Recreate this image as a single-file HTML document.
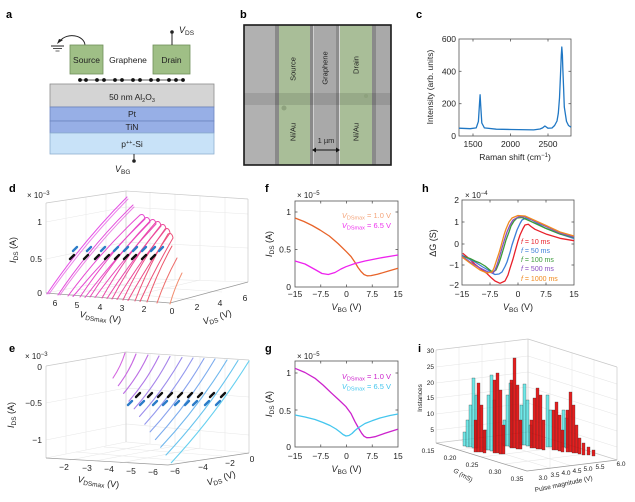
<!DOCTYPE html>
<html><head><meta charset="utf-8">
<style>
html,body{margin:0;padding:0;background:#fff;}
svg{display:block;font-family:"Liberation Sans",Arial,sans-serif;}
.lb{font-weight:bold;font-size:11px;}
.t{font-size:8.5px;fill:#222;}
.s{font-size:6.5px;fill:#222;}
</style></head>
<body>
<svg width="635" height="502" viewBox="0 0 635 502" xmlns="http://www.w3.org/2000/svg">
<rect width="635" height="502" fill="#fff"/>

<!-- ===== Panel a ===== -->
<text class="lb" x="6" y="18">a</text>
<path d="M85,45 C84,35 67,32 60,41" fill="none" stroke="#222" stroke-width="1"/>
<path d="M57,44 L63,40 L59,39 Z" fill="#222"/>
<line x1="51" y1="46" x2="64" y2="46" stroke="#222" stroke-width="1"/>
<line x1="53" y1="48.5" x2="62" y2="48.5" stroke="#222" stroke-width="0.8"/>
<line x1="55.5" y1="51" x2="59.5" y2="51" stroke="#222" stroke-width="0.7"/>
<rect x="70" y="45" width="33" height="29" fill="#9fbf86" stroke="#6f8f5a" stroke-width="0.8"/>
<rect x="153" y="45" width="37" height="29" fill="#9fbf86" stroke="#6f8f5a" stroke-width="0.8"/>
<text class="t" x="86.5" y="63" text-anchor="middle" font-size="8">Source</text>
<text class="t" x="128" y="63" text-anchor="middle" font-size="8">Graphene</text>
<text class="t" x="171.5" y="63" text-anchor="middle" font-size="8">Drain</text>
<line x1="172" y1="45" x2="172" y2="33" stroke="#222" stroke-width="1"/>
<circle cx="172" cy="32" r="1.8" fill="#222"/>
<text x="179" y="33" font-size="9" fill="#222"><tspan font-style="italic">V</tspan><tspan font-size="6.5" dy="2">DS</tspan></text>
<line x1="79" y1="80" x2="184" y2="80" stroke="#222" stroke-width="0.8"/>
<g fill="#111">
<circle cx="80" cy="80" r="1.9"/><circle cx="86" cy="80" r="1.9"/>
<circle cx="97" cy="80" r="1.9"/><circle cx="104" cy="80" r="1.9"/>
<circle cx="115" cy="80" r="1.9"/><circle cx="122" cy="80" r="1.9"/>
<circle cx="133" cy="80" r="1.9"/><circle cx="140" cy="80" r="1.9"/>
<circle cx="151" cy="80" r="1.9"/><circle cx="158" cy="80" r="1.9"/>
<circle cx="169" cy="80" r="1.9"/><circle cx="176" cy="80" r="1.9"/>
<circle cx="183" cy="80" r="1.9"/>
</g>
<rect x="50" y="84" width="164" height="23" fill="#d4d4d4" stroke="#8c8c8c" stroke-width="0.8"/>
<rect x="50" y="107" width="164" height="14" fill="#97afe6" stroke="#6c85c0" stroke-width="0.8"/>
<rect x="50" y="121" width="164" height="12" fill="#97afe6" stroke="#6c85c0" stroke-width="0.8"/>
<rect x="50" y="133" width="164" height="21" fill="#c8e2f8" stroke="#8fb0d0" stroke-width="0.8"/>
<text class="t" x="132" y="100" text-anchor="middle" font-size="8">50 nm Al<tspan font-size="5.5" dy="2">2</tspan><tspan dy="-2">O</tspan><tspan font-size="5.5" dy="2">3</tspan></text>
<text class="t" x="132" y="117" text-anchor="middle" font-size="8">Pt</text>
<text class="t" x="132" y="130" text-anchor="middle" font-size="8">TiN</text>
<text class="t" x="132" y="147" text-anchor="middle" font-size="8">p<tspan font-size="5.5" dy="-3">++</tspan><tspan dy="3">-Si</tspan></text>
<line x1="134" y1="154" x2="134" y2="161" stroke="#222" stroke-width="1"/>
<circle cx="134" cy="161" r="1.8" fill="#222"/>
<text x="115" y="172" font-size="9" fill="#222"><tspan font-style="italic">V</tspan><tspan font-size="6.5" dy="2">BG</tspan></text>

<!-- ===== Panel b ===== -->
<text class="lb" x="240" y="18">b</text>
<rect x="244" y="25" width="147" height="140" fill="#a9a9a9"/>
<rect x="245" y="25" width="30" height="140" fill="#b1b1b1"/>
<rect x="275" y="25" width="4" height="140" fill="#8a8a8a"/>
<rect x="279" y="25" width="31" height="140" fill="#a9be98"/>
<rect x="310" y="25" width="3" height="140" fill="#8a8a8a"/>
<rect x="313" y="25" width="1" height="140" fill="#d0d0d0"/>
<rect x="336" y="25" width="4" height="140" fill="#8d8d8d"/>
<rect x="339" y="25" width="1" height="140" fill="#d8d8d8"/>
<rect x="340" y="25" width="32" height="140" fill="#a9be98"/>
<rect x="372" y="25" width="4" height="140" fill="#8a8a8a"/>
<rect x="244" y="93" width="147" height="12" fill="#000" fill-opacity="0.1"/>
<circle cx="284" cy="108" r="2.5" fill="#8ea27e"/>
<circle cx="366" cy="96" r="2" fill="#8ea27e"/>
<rect x="244" y="25" width="147" height="140" fill="none" stroke="#1a1a1a" stroke-width="1.6"/>
<g font-size="7.5" fill="#222" text-anchor="middle" dominant-baseline="central">
<text transform="translate(293,69) rotate(-90)">Source</text>
<text transform="translate(325,68) rotate(-90)">Graphene</text>
<text transform="translate(356,65) rotate(-90)">Drain</text>
<text transform="translate(293,132) rotate(-90)">Ni/Au</text>
<text transform="translate(356,132) rotate(-90)">Ni/Au</text>
</g>
<text x="326" y="143" font-size="7.5" fill="#222" text-anchor="middle">1 µm</text>
<line x1="314" y1="150" x2="338" y2="150" stroke="#111" stroke-width="1"/>
<path d="M312,150 L316,147.5 L316,152.5 Z M340,150 L336,147.5 L336,152.5 Z" fill="#111"/>

<!-- ===== Panel c ===== -->
<text class="lb" x="416" y="18">c</text>
<rect x="459" y="39" width="112" height="97" fill="none" stroke="#555" stroke-width="0.8"/>
<g stroke="#555" stroke-width="0.8">
<line x1="473" y1="136" x2="473" y2="133.5"/><line x1="510.5" y1="136" x2="510.5" y2="133.5"/><line x1="548" y1="136" x2="548" y2="133.5"/>
<line x1="473" y1="39" x2="473" y2="41.5"/><line x1="510.5" y1="39" x2="510.5" y2="41.5"/><line x1="548" y1="39" x2="548" y2="41.5"/>
<line x1="459" y1="71.3" x2="461.5" y2="71.3"/><line x1="459" y1="103.7" x2="461.5" y2="103.7"/>
<line x1="571" y1="71.3" x2="568.5" y2="71.3"/><line x1="571" y1="103.7" x2="568.5" y2="103.7"/>
</g>
<polyline fill="none" stroke="#1f77c4" stroke-width="1.3" stroke-linejoin="round" points="459,128.2 470.2,128.7 476.2,127.9 478.4,121.4 479.5,103.7 480.1,94.8 480.7,105.3 481.8,123 484.4,127.9 496.3,129.2 511.3,129.5 533.7,129.9 540,129 542.6,127.9 544.9,126 547.9,128.2 552,128 554.6,125.5 557,121 558.3,113.4 559.5,98 560.5,74.6 561.3,55 561.8,47 562.4,55 562.8,68 563.6,88 564.3,107 566.5,121.4 568.5,125.5 571,127.2"/>
<g class="t" text-anchor="end">
<text x="456" y="42">600</text><text x="456" y="74.3">400</text><text x="456" y="106.7">200</text><text x="456" y="139">0</text>
</g>
<g class="t" text-anchor="middle">
<text x="473" y="147">1500</text><text x="510.5" y="147">2000</text><text x="548" y="147">2500</text>
</g>
<text class="t" x="515" y="160" text-anchor="middle">Raman shift (cm<tspan font-size="6" dy="-3">−1</tspan><tspan dy="3">)</tspan></text>
<text class="t" transform="translate(433,87) rotate(-90)" text-anchor="middle">Intensity (arb. units)</text>

<!-- ===== Panel d ===== -->
<text class="lb" x="9" y="192">d</text>
<g stroke="#e8e8e8" stroke-width="0.6" fill="none">
<line x1="46" y1="259" x2="126" y2="242"/><line x1="46" y1="222" x2="126" y2="207"/>
<line x1="126" y1="242" x2="248" y2="248"/><line x1="126" y1="207" x2="248" y2="214"/>
<line x1="66" y1="200" x2="66" y2="290"/><line x1="86" y1="197" x2="86" y2="286"/><line x1="106" y1="194" x2="106" y2="282"/>
<line x1="150" y1="192" x2="150" y2="279"/><line x1="175" y1="194" x2="175" y2="280"/><line x1="200" y1="196" x2="200" y2="280"/><line x1="225" y1="197" x2="225" y2="281"/>
<line x1="126" y1="278" x2="248" y2="282"/><line x1="46" y1="293" x2="126" y2="278"/>
<line x1="70" y1="295" x2="150" y2="279"/><line x1="95" y1="297" x2="175" y2="280"/><line x1="120" y1="299" x2="200" y2="280"/>
<line x1="76" y1="289" x2="196" y2="300"/><line x1="104" y1="284" x2="222" y2="292"/>
</g>
<g stroke="#c8c8c8" stroke-width="0.7" fill="none">
<line x1="46" y1="203" x2="126" y2="191"/><line x1="126" y1="191" x2="248" y2="199"/>
<line x1="46" y1="203" x2="46" y2="293"/><line x1="126" y1="191" x2="126" y2="278"/><line x1="248" y1="199" x2="248" y2="282"/>
</g>
<g stroke="#999" stroke-width="0.7" fill="none">
<line x1="46" y1="293" x2="170" y2="303"/><line x1="170" y1="303" x2="248" y2="282"/>
</g>
<g fill="none" stroke-width="1" stroke-linecap="round">
<path d="M47,294 Q82.4,241.7 127,197" stroke="#e64de6"/>
<path d="M49,294 Q85,243 128,199" stroke="#e64de6" stroke-opacity="0.7"/>
<path d="M58,295 Q90.9,246.2 133,205" stroke="#e44ddc"/>
<path d="M60,295 Q93,248 134,207" stroke="#e44ddc" stroke-opacity="0.7"/>
<path d="M68,296 Q100.3,252.2 140,215 Q144,213 145,219 Q107,256 73,296.5" stroke="#e64ad2"/>
<path d="M80,297 Q108.6,254.3 145,218 Q149,216 150,222 Q115,258 85,297.5" stroke="#e84ac6"/>
<path d="M90,297 Q116.6,255.4 151,220 Q155,218 156,224 Q123,259 95,297.5" stroke="#ea48b8"/>
<path d="M102,298 Q124.9,257.1 156,222 Q160,220 161,226 Q131,261 107,298.5" stroke="#ea48a8"/>
<path d="M112,299 Q132.8,259.5 161,225 Q165,223 166,229 Q139,263 117,299.5" stroke="#ec4a98"/>
<path d="M123,300 Q140.6,262.5 165,229 Q169,227 170,233 Q147,266 128,300.5" stroke="#ec4c88"/>
<path d="M135,301 Q148.4,266 168,234 Q172,232 173,238 Q155,269 140,301.5" stroke="#ec5078"/>
<path d="M147,302 Q157,273 172,246" stroke="#ec586c"/>
<path d="M157,303 Q165,280 177,258" stroke="#ee6c6a"/>
<path d="M170,304 Q174.5,288 182,273" stroke="#f28e70"/>
</g>
<g stroke-width="2.4" stroke-linecap="round">
<g stroke="#2c7cc8">
<line x1="73" y1="251" x2="77" y2="247"/><line x1="87" y1="251" x2="91" y2="247"/><line x1="101" y1="251" x2="105" y2="247"/>
<line x1="114" y1="251" x2="118" y2="247"/><line x1="124" y1="251" x2="128" y2="247"/><line x1="133" y1="251" x2="137" y2="247"/>
<line x1="142" y1="251" x2="146" y2="247"/><line x1="151" y1="251" x2="155" y2="247"/><line x1="159" y1="251" x2="163" y2="247"/>
</g>
<g stroke="#111">
<line x1="70" y1="259" x2="74" y2="255"/><line x1="84" y1="259" x2="88" y2="255"/><line x1="95" y1="259" x2="99" y2="255"/>
<line x1="105" y1="259" x2="109" y2="255"/><line x1="115" y1="259" x2="119" y2="255"/><line x1="124" y1="259" x2="128" y2="255"/>
<line x1="132" y1="259" x2="136" y2="255"/><line x1="142" y1="259" x2="146" y2="255"/><line x1="151" y1="259" x2="155" y2="255"/>
</g>
</g>
<text x="27" y="198" font-size="8" fill="#222">× 10<tspan font-size="6" dy="-3">−3</tspan></text>
<g class="t" text-anchor="end" font-size="9">
<text x="42" y="225">1</text><text x="42" y="262">0.5</text><text x="42" y="296">0</text>
</g>
<text transform="translate(16,250) rotate(-90)" text-anchor="middle" font-size="9" fill="#222"><tspan font-style="italic">I</tspan><tspan font-size="6.5" dy="2">DS</tspan><tspan dy="-2"> (A)</tspan></text>
<g class="t" text-anchor="middle" font-size="9">
<text x="55" y="306">6</text><text x="77" y="308">5</text><text x="100" y="310">4</text><text x="122" y="311">3</text><text x="144" y="312">2</text><text x="172" y="314">0</text>
<text x="197" y="310">2</text><text x="220" y="306">4</text><text x="245" y="301">6</text>
</g>
<text transform="translate(100,320) rotate(8)" text-anchor="middle" font-size="9" fill="#222"><tspan font-style="italic">V</tspan><tspan font-size="6.5" dy="2">DSmax</tspan><tspan dy="-2"> (V)</tspan></text>
<text transform="translate(218,320) rotate(-18)" text-anchor="middle" font-size="9" fill="#222"><tspan font-style="italic">V</tspan><tspan font-size="6.5" dy="2">DS</tspan><tspan dy="-2"> (V)</tspan></text>

<!-- ===== Panel e ===== -->
<text class="lb" x="9" y="352">e</text>
<g stroke="#e8e8e8" stroke-width="0.6" fill="none">
<line x1="46" y1="403" x2="126" y2="388"/><line x1="46" y1="440" x2="126" y2="424"/>
<line x1="126" y1="388" x2="249" y2="397"/><line x1="126" y1="424" x2="249" y2="435"/>
<line x1="66" y1="363" x2="66" y2="454"/><line x1="86" y1="359" x2="86" y2="450"/><line x1="106" y1="356" x2="106" y2="446"/>
<line x1="150" y1="354" x2="150" y2="444"/><line x1="175" y1="355" x2="175" y2="446"/><line x1="200" y1="357" x2="200" y2="448"/><line x1="225" y1="358" x2="225" y2="451"/>
<line x1="46" y1="458" x2="126" y2="442"/><line x1="126" y1="442" x2="249" y2="453"/>
<line x1="70" y1="460" x2="150" y2="444"/><line x1="95" y1="461" x2="175" y2="446"/><line x1="120" y1="463" x2="200" y2="448"/>
<line x1="76" y1="452" x2="196" y2="462"/><line x1="104" y1="447" x2="222" y2="456"/>
</g>
<g stroke="#c8c8c8" stroke-width="0.7" fill="none">
<line x1="46" y1="366" x2="126" y2="352"/><line x1="126" y1="352" x2="249" y2="360"/>
<line x1="46" y1="366" x2="46" y2="458"/><line x1="126" y1="352" x2="126" y2="442"/><line x1="249" y1="360" x2="249" y2="453"/>
</g>
<g stroke="#999" stroke-width="0.7" fill="none">
<line x1="46" y1="458" x2="168" y2="465"/><line x1="168" y1="465" x2="249" y2="453"/>
</g>
<g fill="none" stroke-width="1.1" stroke-linecap="round">
<path d="M113,378 Q120.8,366.4 125,353" stroke="#d466e0"/>
<path d="M118.3,385.7 Q129.4,371.1 136,354" stroke="#c868e2"/>
<path d="M123.6,393.4 Q138.3,375.8 148,355" stroke="#bc6ee4"/>
<path d="M128.9,401.1 Q146.9,380.5 159,356" stroke="#b078e8"/>
<path d="M134.2,408.8 Q155.4,385 170,356.5" stroke="#a684ea"/>
<path d="M139.5,416.5 Q164,389.3 182,357.5" stroke="#9c8cec"/>
<path d="M144.8,424.2 Q172.5,393.7 193,358" stroke="#9498ee"/>
<path d="M150.1,431.9 Q181,398.2 204,358.5" stroke="#88a2ee"/>
<path d="M155.4,439.6 Q189.2,402.3 215,359" stroke="#7cacee"/>
<path d="M160.7,447.3 Q198.3,407 227,360" stroke="#70b8ee"/>
<path d="M166,455 Q206.8,411.4 238,360.5" stroke="#68c4ee"/>
<path d="M171.3,462.7 Q215,415.5 249,361" stroke="#66d0f0"/>
</g>
<g stroke-width="2.4" stroke-linecap="round">
<g stroke="#111">
<line x1="136" y1="397" x2="140" y2="393"/><line x1="148" y1="397" x2="152" y2="393"/><line x1="158" y1="397" x2="162" y2="393"/>
<line x1="168" y1="397" x2="172" y2="393"/><line x1="178" y1="397" x2="182" y2="393"/><line x1="188" y1="397" x2="192" y2="393"/>
<line x1="198" y1="397" x2="202" y2="393"/><line x1="210" y1="397" x2="214" y2="393"/><line x1="221" y1="397" x2="225" y2="393"/>
</g>
<g stroke="#2c7cc8">
<line x1="128" y1="405" x2="132" y2="401"/><line x1="140" y1="405" x2="144" y2="401"/><line x1="153" y1="405" x2="157" y2="401"/>
<line x1="163" y1="405" x2="167" y2="401"/><line x1="175" y1="405" x2="179" y2="401"/><line x1="185" y1="405" x2="189" y2="401"/>
<line x1="193" y1="405" x2="197" y2="401"/><line x1="205" y1="405" x2="209" y2="401"/><line x1="216" y1="405" x2="220" y2="401"/>
</g>
</g>
<text x="25" y="359" font-size="8" fill="#222">× 10<tspan font-size="6" dy="-3">−3</tspan></text>
<g class="t" text-anchor="end" font-size="9">
<text x="42" y="370">0</text><text x="42" y="406">−0.5</text><text x="42" y="443">−1</text>
</g>
<text transform="translate(14,415) rotate(-90)" text-anchor="middle" font-size="9" fill="#222"><tspan font-style="italic">I</tspan><tspan font-size="6.5" dy="2">DS</tspan><tspan dy="-2"> (A)</tspan></text>
<g class="t" text-anchor="middle" font-size="9">
<text x="64" y="470">−2</text><text x="87" y="471">−3</text><text x="109" y="472">−4</text><text x="131" y="474">−5</text><text x="153" y="475">−6</text>
<text x="175" y="474">−6</text><text x="203" y="470">−4</text><text x="230" y="466">−2</text><text x="252" y="462">0</text>
</g>
<text transform="translate(98,485) rotate(8)" text-anchor="middle" font-size="9" fill="#222"><tspan font-style="italic">V</tspan><tspan font-size="6.5" dy="2">DSmax</tspan><tspan dy="-2"> (V)</tspan></text>
<text transform="translate(222,481) rotate(-18)" text-anchor="middle" font-size="9" fill="#222"><tspan font-style="italic">V</tspan><tspan font-size="6.5" dy="2">DS</tspan><tspan dy="-2"> (V)</tspan></text>

<!-- ===== Panel f ===== -->
<text class="lb" x="265" y="192">f</text>
<rect x="295" y="201" width="103" height="86" fill="none" stroke="#555" stroke-width="0.8"/>
<g stroke="#555" stroke-width="0.8">
<line x1="320.75" y1="287" x2="320.75" y2="284.5"/><line x1="346.5" y1="287" x2="346.5" y2="284.5"/><line x1="372.25" y1="287" x2="372.25" y2="284.5"/>
<line x1="320.75" y1="201" x2="320.75" y2="203.5"/><line x1="346.5" y1="201" x2="346.5" y2="203.5"/><line x1="372.25" y1="201" x2="372.25" y2="203.5"/>
<line x1="295" y1="212" x2="297.5" y2="212"/><line x1="295" y1="249.5" x2="297.5" y2="249.5"/>
<line x1="398" y1="212" x2="395.5" y2="212"/><line x1="398" y1="249.5" x2="395.5" y2="249.5"/>
</g>
<polyline fill="none" stroke="#e8642a" stroke-width="1.3" stroke-linejoin="round" points="295,218 304,221.5 312.2,225.5 320,230 329.3,236 338,243.5 346.5,251.8 351,256.5 355.1,262.5 358,267.5 361,271.5 364,274.5 367.1,275.8 371,275.6 377.4,274.3 387.7,271.3 398,268.3"/>
<polyline fill="none" stroke="#ee22ee" stroke-width="1.3" stroke-linejoin="round" points="295,261 305,264 315,269.5 322,273.5 328.3,274.5 335,272.5 341,269 346,266.7 355,263.5 365,261 380,258 398,255"/>
<text x="297" y="198" font-size="8" fill="#222">× 10<tspan font-size="6" dy="-3">−5</tspan></text>
<g class="t" text-anchor="end" font-size="9">
<text x="291" y="215">1</text><text x="291" y="252.5">0.5</text><text x="291" y="290">0</text>
</g>
<g class="t" text-anchor="middle" font-size="9">
<text x="295" y="297">−15</text><text x="320.75" y="297">−7.5</text><text x="346.5" y="297">0</text><text x="372.25" y="297">7.5</text><text x="398" y="297">15</text>
</g>
<text x="346.5" y="310" text-anchor="middle" font-size="9" fill="#222"><tspan font-style="italic">V</tspan><tspan font-size="6.5" dy="2">BG</tspan><tspan dy="-2"> (V)</tspan></text>
<text transform="translate(272,244) rotate(-90)" text-anchor="middle" font-size="9" fill="#222"><tspan font-style="italic">I</tspan><tspan font-size="6.5" dy="2">DS</tspan><tspan dy="-2"> (A)</tspan></text>
<text x="391" y="218" text-anchor="end" font-size="7.5" fill="#f4a47a"><tspan font-style="italic">V</tspan><tspan font-size="5.5" dy="1.5">DSmax</tspan><tspan dy="-1.5"> = 1.0 V</tspan></text>
<text x="391" y="228" text-anchor="end" font-size="7.5" fill="#ee33ee"><tspan font-style="italic">V</tspan><tspan font-size="5.5" dy="1.5">DSmax</tspan><tspan dy="-1.5"> = 6.5 V</tspan></text>

<!-- ===== Panel g ===== -->
<text class="lb" x="265" y="352">g</text>
<rect x="295" y="361" width="103" height="86" fill="none" stroke="#555" stroke-width="0.8"/>
<g stroke="#555" stroke-width="0.8">
<line x1="320.75" y1="447" x2="320.75" y2="444.5"/><line x1="346.5" y1="447" x2="346.5" y2="444.5"/><line x1="372.25" y1="447" x2="372.25" y2="444.5"/>
<line x1="320.75" y1="361" x2="320.75" y2="363.5"/><line x1="346.5" y1="361" x2="346.5" y2="363.5"/><line x1="372.25" y1="361" x2="372.25" y2="363.5"/>
<line x1="295" y1="373" x2="297.5" y2="373"/><line x1="295" y1="410" x2="297.5" y2="410"/>
<line x1="398" y1="373" x2="395.5" y2="373"/><line x1="398" y1="410" x2="395.5" y2="410"/>
</g>
<polyline fill="none" stroke="#cc22cc" stroke-width="1.3" stroke-linejoin="round" points="295,368.3 305,372.5 315,378.3 323,385 331.7,393.3 339,400 346,406.7 351,413.5 355,421.7 358.5,428 361.7,433.3 364,436.2 366.7,437.7 370,437.6 375,436.7 385,433.3 397.7,429.3"/>
<polyline fill="none" stroke="#44c6ee" stroke-width="1.3" stroke-linejoin="round" points="295,415 305,417 315,419.5 323,422.5 330,425.5 336,429 340,432 343,434.5 346,436 349,435.5 352,433.5 355,430.5 358,428 365,423.5 372,420.8 380,418 390,415.5 398,414"/>
<text x="297" y="359" font-size="8" fill="#222">× 10<tspan font-size="6" dy="-3">−5</tspan></text>
<g class="t" text-anchor="end" font-size="9">
<text x="291" y="376">1</text><text x="291" y="414">0.5</text><text x="291" y="450">0</text>
</g>
<g class="t" text-anchor="middle" font-size="9">
<text x="295" y="459">−15</text><text x="320.75" y="459">−7.5</text><text x="346.5" y="459">0</text><text x="372.25" y="459">7.5</text><text x="398" y="459">15</text>
</g>
<text x="346.5" y="472" text-anchor="middle" font-size="9" fill="#222"><tspan font-style="italic">V</tspan><tspan font-size="6.5" dy="2">BG</tspan><tspan dy="-2"> (V)</tspan></text>
<text transform="translate(272,404) rotate(-90)" text-anchor="middle" font-size="9" fill="#222"><tspan font-style="italic">I</tspan><tspan font-size="6.5" dy="2">DS</tspan><tspan dy="-2"> (A)</tspan></text>
<text x="391" y="379" text-anchor="end" font-size="7.5" fill="#cc22cc"><tspan font-style="italic">V</tspan><tspan font-size="5.5" dy="1.5">DSmax</tspan><tspan dy="-1.5"> = 1.0 V</tspan></text>
<text x="391" y="389" text-anchor="end" font-size="7.5" fill="#44c6ee"><tspan font-style="italic">V</tspan><tspan font-size="5.5" dy="1.5">DSmax</tspan><tspan dy="-1.5"> = 6.5 V</tspan></text>

<!-- ===== Panel h ===== -->
<text class="lb" x="422" y="192">h</text>
<rect x="462" y="200" width="112" height="85" fill="none" stroke="#555" stroke-width="0.8"/>
<g stroke="#555" stroke-width="0.8">
<line x1="490" y1="285" x2="490" y2="282.5"/><line x1="518" y1="285" x2="518" y2="282.5"/><line x1="546" y1="285" x2="546" y2="282.5"/>
<line x1="490" y1="200" x2="490" y2="202.5"/><line x1="518" y1="200" x2="518" y2="202.5"/><line x1="546" y1="200" x2="546" y2="202.5"/>
<line x1="462" y1="222" x2="464.5" y2="222"/><line x1="462" y1="244" x2="464.5" y2="244"/><line x1="462" y1="265" x2="464.5" y2="265"/>
<line x1="574" y1="222" x2="571.5" y2="222"/><line x1="574" y1="244" x2="571.5" y2="244"/><line x1="574" y1="265" x2="571.5" y2="265"/>
</g>
<g fill="none" stroke-width="1.3" stroke-linejoin="round">
<polyline stroke="#e8202a" points="462.7,253.3 469,258.5 475,264.3 481,269 486.7,273.3 491,277.5 495,281 500,283.3 505,281 508,275 510,268.3 513,259 515,251.7 518,241 520,235 523,228.5 525,225 528.3,224.3 531,226.5 535,229.3 546.7,234.3 560,238.3 574,240.7"/>
<polyline stroke="#3d7fd8" points="462,255 468,258.5 475,262 482,266.5 488,270 492,273 495,274.5 499,274 502,272 505,266.5 507,262 510,252.5 512,245 515,236 517,230 520,223.5 522,220 526,218 532,220 545,228 560,234 574,238.5"/>
<polyline stroke="#3a9a3a" points="462,256 470,258.5 475,261 480,263 485,266 491,271 494,271.5 496,270 499,263 501,257 504,247 506,240 509,232 511,226 514,221 517,218 522,217.5 530,221 545,228 560,234 574,237.5"/>
<polyline stroke="#8a4fc0" points="462,256 470,262 480,268 488,272 493,273 495,270 497,265 500,255 502,248 505,238 507,232 510,225 513,220 519,216.5 526,217 545,226 560,233 574,237"/>
<polyline stroke="#f08a20" points="462,257 470,263 480,270 487,273 492,272 494,268 496,262 499,253 501,246 504,235 506,229 509,222 512,218 518,215.5 525,216 545,225 560,232 574,236"/>
</g>
<text x="465" y="198" font-size="8" fill="#222">× 10<tspan font-size="6" dy="-3">−4</tspan></text>
<g class="t" text-anchor="end" font-size="9">
<text x="459" y="203">2</text><text x="459" y="225">1</text><text x="459" y="247">0</text><text x="459" y="268">−1</text><text x="459" y="288">−2</text>
</g>
<g class="t" text-anchor="middle" font-size="9">
<text x="462" y="297">−15</text><text x="490" y="297">−7.5</text><text x="518" y="297">0</text><text x="546" y="297">7.5</text><text x="574" y="297">15</text>
</g>
<text x="518" y="310" text-anchor="middle" font-size="9" fill="#222"><tspan font-style="italic">V</tspan><tspan font-size="6.5" dy="2">BG</tspan><tspan dy="-2"> (V)</tspan></text>
<text transform="translate(436,243) rotate(-90)" text-anchor="middle" font-size="9" fill="#222">ΔG (S)</text>
<g font-size="7">
<text x="521" y="244" fill="#e8202a"><tspan font-style="italic">f</tspan> = 10 ms</text>
<text x="521" y="253" fill="#3d7fd8"><tspan font-style="italic">f</tspan> = 50 ms</text>
<text x="521" y="262" fill="#3a9a3a"><tspan font-style="italic">f</tspan> = 100 ms</text>
<text x="521" y="271" fill="#8a4fc0"><tspan font-style="italic">f</tspan> = 500 ms</text>
<text x="521" y="281" fill="#f08a20"><tspan font-style="italic">f</tspan> = 1000 ms</text>
</g>

<!-- ===== Panel i ===== -->
<text class="lb" x="418" y="352">i</text>
<g stroke="#e6e6e6" stroke-width="0.6" fill="none">
<line x1="436" y1="367" x2="528" y2="356"/><line x1="436" y1="383" x2="528" y2="372"/><line x1="436" y1="398" x2="528" y2="387"/>
<line x1="436" y1="414" x2="528" y2="403"/><line x1="436" y1="430" x2="528" y2="419"/>
<line x1="528" y1="356" x2="617" y2="384"/><line x1="528" y1="372" x2="617" y2="400"/><line x1="528" y1="387" x2="617" y2="415"/>
<line x1="528" y1="403" x2="617" y2="431"/><line x1="528" y1="419" x2="617" y2="447"/>
<line x1="459" y1="347" x2="459" y2="440"/><line x1="482" y1="345" x2="482" y2="437"/><line x1="505" y1="342" x2="505" y2="435"/>
<line x1="550" y1="346" x2="550" y2="439"/><line x1="572" y1="353" x2="572" y2="446"/><line x1="594" y1="360" x2="594" y2="453"/>
<line x1="458" y1="450" x2="550" y2="439"/><line x1="481" y1="457" x2="572" y2="446"/><line x1="504" y1="464" x2="594" y2="453"/>
<line x1="550" y1="439" x2="550" y2="469"/><line x1="459" y1="440" x2="550" y2="468"/><line x1="482" y1="437" x2="572" y2="466"/>
</g>
<g stroke="#c8c8c8" stroke-width="0.7" fill="none">
<line x1="436" y1="350" x2="528" y2="339"/><line x1="528" y1="339" x2="617" y2="367"/>
<line x1="436" y1="350" x2="436" y2="443"/><line x1="528" y1="339" x2="528" y2="432"/><line x1="617" y1="367" x2="617" y2="460"/>
<line x1="436" y1="443" x2="528" y2="432"/><line x1="528" y1="432" x2="617" y2="460"/>
</g>
<g stroke="#999" stroke-width="0.7" fill="none">
<line x1="436" y1="443" x2="527" y2="471"/><line x1="527" y1="471" x2="617" y2="460"/>
</g>
<g stroke="#333" stroke-width="0.3">
<g fill="#3fe0e0" fill-opacity="0.75">
<rect x="463" y="432" width="3" height="14"/><rect x="466" y="420" width="3" height="27"/><rect x="469" y="405" width="3" height="42"/>
<rect x="472" y="378" width="3" height="70"/><rect x="475" y="395" width="3" height="53"/>
<rect x="484" y="430" width="3" height="20"/><rect x="487" y="395" width="3" height="55"/><rect x="490" y="375" width="3" height="76"/><rect x="493" y="400" width="3" height="51"/>
<rect x="503" y="420" width="3" height="26"/><rect x="506" y="395" width="3" height="51"/><rect x="509" y="383" width="3" height="64"/>
<rect x="520" y="405" width="3" height="40"/><rect x="523" y="384" width="3" height="61"/><rect x="526" y="400" width="3" height="46"/><rect x="529" y="425" width="3" height="21"/>
<rect x="546" y="395" width="3" height="52"/><rect x="549" y="410" width="3" height="37"/>
<rect x="562" y="410" width="3" height="37"/><rect x="565" y="418" width="3" height="30"/>
</g>
<g fill="#e00000" fill-opacity="0.88">
<rect x="474" y="420" width="3" height="32"/><rect x="477" y="383" width="3" height="69"/><rect x="480" y="405" width="3" height="47"/><rect x="483" y="430" width="3" height="23"/>
<rect x="493" y="380" width="3" height="73"/><rect x="496" y="373" width="3" height="80"/><rect x="499" y="390" width="3" height="64"/><rect x="502" y="425" width="3" height="29"/>
<rect x="510" y="380" width="3" height="68"/><rect x="513" y="358" width="3" height="90"/><rect x="516" y="385" width="3" height="64"/><rect x="519" y="420" width="3" height="29"/>
<rect x="530" y="420" width="3" height="28"/><rect x="533" y="398" width="3" height="50"/><rect x="536" y="388" width="3" height="61"/><rect x="539" y="395" width="3" height="54"/><rect x="542" y="420" width="3" height="30"/>
<rect x="552" y="410" width="3" height="40"/><rect x="555" y="402" width="3" height="48"/><rect x="558" y="415" width="3" height="36"/><rect x="561" y="430" width="3" height="22"/>
<rect x="566" y="410" width="3" height="42"/><rect x="569" y="392" width="3" height="60"/><rect x="572" y="405" width="3" height="48"/><rect x="575" y="425" width="3" height="28"/>
<rect x="578" y="438" width="3" height="16"/><rect x="582" y="443" width="3" height="12"/><rect x="587" y="447" width="3" height="8"/><rect x="592" y="450" width="3" height="6"/>
</g>
</g>
<g class="s" text-anchor="end">
<text x="434" y="353">30</text><text x="434" y="369">25</text><text x="434" y="385">20</text><text x="434" y="400">15</text><text x="434" y="416">10</text><text x="434" y="432">5</text>
</g>
<text class="s" transform="translate(422,398) rotate(-90)" text-anchor="middle" font-size="6">Instances</text>
<g class="s" text-anchor="middle">
<text x="428" y="453">0.15</text><text x="450" y="460">0.20</text><text x="472" y="467">0.25</text><text x="495" y="474">0.30</text><text x="517" y="481">0.35</text>
<text x="543" y="480">3.0</text><text x="555" y="477">3.5</text><text x="566" y="475">4.0</text><text x="577" y="473">4.5</text><text x="588" y="471">5.0</text><text x="600" y="469">5.5</text><text x="621" y="466">6.0</text>
</g>
<text class="s" transform="translate(462,477) rotate(30)" text-anchor="middle"><tspan font-style="italic">G</tspan> (mS)</text>
<text class="s" transform="translate(564,486) rotate(-12)" text-anchor="middle">Pulse magnitude (V)</text>
</svg>
</body></html>
